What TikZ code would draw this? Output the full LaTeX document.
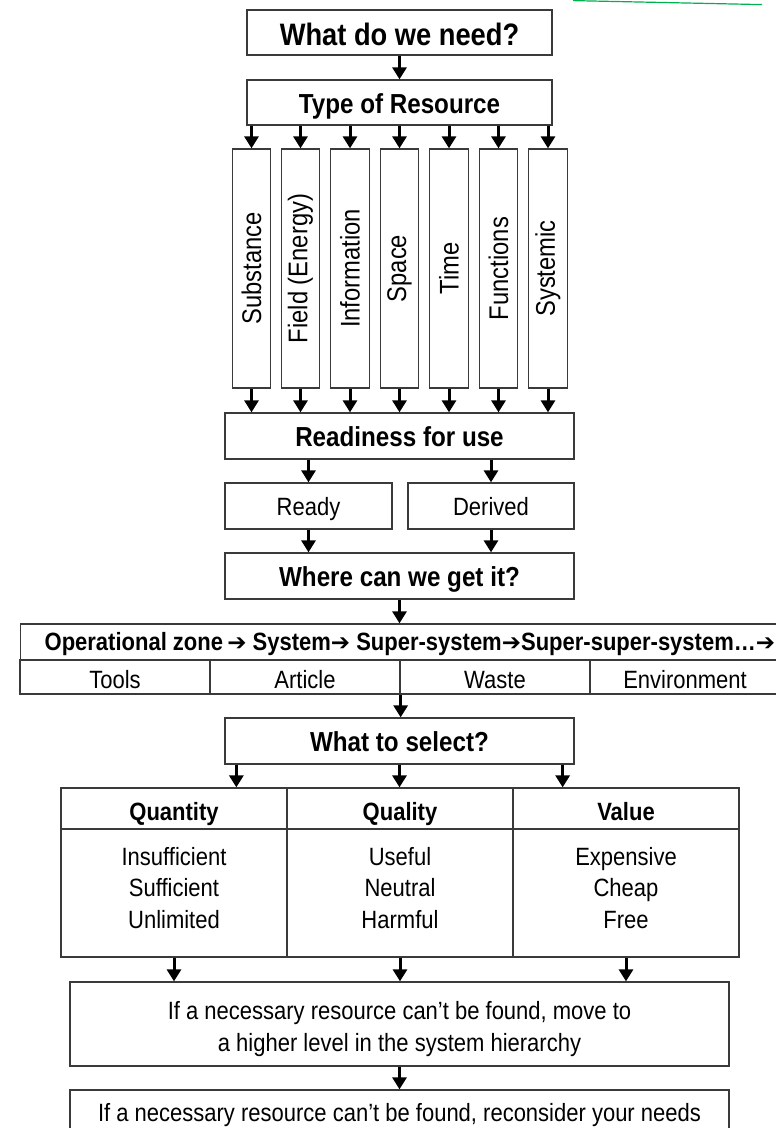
\documentclass[tikz,border=0pt]{standalone}
\usepackage{fontspec}
\setmainfont{Liberation Sans}[FakeStretch=0.88]
\newfontfamily\djv{DejaVu Sans}
\usetikzlibrary{arrows.meta,calc}
\definecolor{boxgray}{HTML}{3A3A3A}
\definecolor{deco}{RGB}{0,176,80}
\newcommand{\vlab}[1]{\rotatebox{90}{#1}}
\newcommand{\harr}{{\djv\bfseries\fontsize{23}{23}\selectfont ➔}}
\tikzset{
  box/.style={draw=boxgray, line width=1.3pt, rectangle, inner sep=0pt, align=center},
  arr/.style={line width=3pt, black, -{Triangle[length=12pt,width=14pt]}},
  big/.style={font=\fontsize{31}{36}\selectfont\bfseries, text height=27pt, text depth=2pt},
  hd/.style={font=\fontsize{27.5}{33}\selectfont\bfseries, text height=24pt, text depth=2.6pt},
  hds/.style={font=\fontsize{25}{30}\selectfont\bfseries, text height=24pt, text depth=0pt},
  opsf/.style={font=\fontsize{25}{30}\selectfont\bfseries, text height=20pt, text depth=2.6pt},
  tx/.style={font=\fontsize{25}{31.5}\selectfont},
  tx1/.style={tx, text height=21pt, text depth=3pt},
  tx2/.style={tx, text height=22pt, text depth=0pt},
  vt/.style={font=\fontsize{27}{30}\selectfont},
}
\begin{document}
\begin{tikzpicture}[x=1pt,y=-1pt]
\useasboundingbox (0,0) rectangle (776,1128);
\draw[deco, line width=1.2pt] (573,0.6) -- (762,4.6);
% top
\node[box, big, minimum width=305, minimum height=45] (need) at (399.5,32.5) {What do we need?};
\node[box, hd, minimum width=305, minimum height=45] (type) at (399.5,102.5) {Type of Resource};
% resource types
\foreach \n/\x/\t in {v1/251.5/Substance, v2/300.5/Field (Energy), v3/350/Information, v4/399.5/Space, v5/449/Time, v6/498.5/Functions, v7/548/Systemic}{
  \node[box, vt, minimum width=38.5, minimum height=239] (\n) at (\x,268.5) {\vlab{\t}};
}
\node[box, hd, minimum width=349, minimum height=46] (r4u) at (399.5,436) {Readiness for use};
\node[box, tx1, minimum width=167, minimum height=46] (ready) at (308.5,506) {Ready};
\node[box, tx1, minimum width=166, minimum height=46] (derived) at (491,506) {Derived};
\node[box, hd, minimum width=349, minimum height=46] (where) at (399.5,576) {Where can we get it?};
% operational zone table
\node[box, opsf, anchor=west, inner xsep=24pt, minimum height=36] (ops) at (20,642)
  {Operational zone\,\harr\ System\harr\ Super-system\harr Super-super-system…\harr};
\node[box, tx2, minimum width=190, minimum height=34] (tools) at (115,677) {Tools};
\node[box, tx2, minimum width=190, minimum height=34] (article) at (305,677) {Article};
\node[box, tx2, minimum width=190, minimum height=34] (waste) at (495,677) {Waste};
\node[box, tx2, minimum width=190, minimum height=34] (env) at (685,677) {Environment};
\node[box, hd, minimum width=349, minimum height=46] (select) at (399.5,741) {What to select?};
% selection table
\node[box, hds, minimum width=226, minimum height=41] (qh1) at (174,808.5) {Quantity};
\node[box, hds, minimum width=226, minimum height=41] (qh2) at (400,808.5) {Quality};
\node[box, hds, minimum width=226, minimum height=41] (qh3) at (626,808.5) {Value};
\node[box, minimum width=226, minimum height=128] (qb1) at (174,893) {};
\node[box, minimum width=226, minimum height=128] (qb2) at (400,893) {};
\node[box, minimum width=226, minimum height=128] (qb3) at (626,893) {};
\node[tx, align=center] (qt1) at (174,888) {Insufficient\\Sufficient\\Unlimited};
\node[tx, align=center] (qt2) at (400,888) {Useful\\Neutral\\Harmful};
\node[tx, align=center] (qt3) at (626,888) {Expensive\\Cheap\\Free};
\node[box, minimum width=659, minimum height=84] (move) at (399.5,1024) {};
\node[tx, align=center] (movet) at (399.5,1029) {If a necessary resource can’t be found, move to\\a higher level in the system hierarchy};
\node[box, tx1, minimum width=659, minimum height=44] (recon) at (399.5,1112) {If a necessary resource can’t be found, reconsider your needs};
% connectors
\draw[arr] (need) -- (type);
\foreach \n in {v1,v2,v3,v4,v5,v6,v7}{
  \draw[arr] (type.south -| \n) -- (\n.north);
  \draw[arr] (\n.south) -- (\n.south |- r4u.north);
}
\draw[arr] (r4u.south -| ready) -- (ready.north);
\draw[arr] (r4u.south -| derived) -- (derived.north);
\draw[arr] (ready.south) -- (ready.south |- where.north);
\draw[arr] (derived.south) -- (derived.south |- where.north);
\draw[arr] (where.south) -- (where.south |- ops.north);
\draw[arr] (article.south east) -- (article.south east |- select.north);
\draw[arr] ($(select.south west)+(12,0)$) coordinate (s1) -- (s1 |- qh1.north);
\draw[arr] (select.south) -- (select.south |- qh2.north);
\draw[arr] ($(select.south east)+(-12,0)$) coordinate (s3) -- (s3 |- qh3.north);
\draw[arr] (qb1.south) -- (qb1.south |- move.north);
\draw[arr] (qb2.south) -- (qb2.south |- move.north);
\draw[arr] (qb3.south) -- (qb3.south |- move.north);
\draw[arr] (move) -- (recon);
\end{tikzpicture}
\end{document}
